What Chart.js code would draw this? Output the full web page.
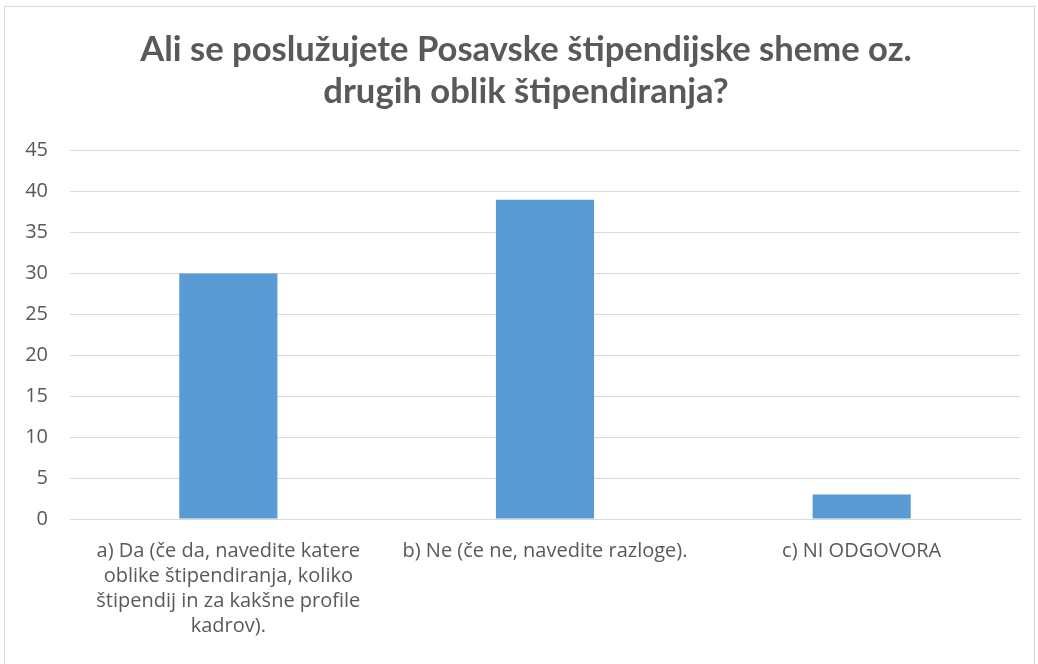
<!DOCTYPE html>
<html>
<head>
<meta charset="utf-8">
<script src="https://cdn.jsdelivr.net/npm/chart.js@4/dist/chart.umd.min.js"></script>
<style>
    html, body { margin: 0; padding: 0; background: #fff; }
    #wrap { position: relative; width: 1038px; height: 664px; overflow: hidden; }
    #frame { position: absolute; left: 4px; top: 6px; width: 1029px; height: 680px; border: 1px solid #d9d9d9; }
    canvas { position: absolute; left: 0; top: 0; }
</style>
</head>
<body>
<div id="wrap">
    <div id="frame"></div>
    <canvas id="chart" width="1038" height="664"></canvas>
</div>
<script>
// Chart data
const chartTitle = ['Ali se poslužujete Posavske štipendijske sheme oz.', 'drugih oblik štipendiranja?'];
const categories = [
    ['a) Da (če da, navedite katere', 'oblike štipendiranja, koliko', 'štipendij in za kakšne profile', 'kadrov).'],
    'b) Ne (če ne, navedite razloge).',
    'c) NI ODGOVORA'
];
const answers = [30, 39, 3];
const yTicks = { min: 0, max: 45, step: 5 };

const textColor = '#595959';
const gridColor = '#d9d9d9';
const titleFont = "Lato, 'Open Sans', sans-serif";
const tickFont = "'Open Sans', Lato, sans-serif";

// nudge the title a little to the right, the original is centred on the frame
const titleShift = {
    id: 'titleShift',
    afterLayout(chart) {
        const t = chart.titleBlock;
        if (t) {
            t.left += 6;
            t.right += 6;
        }
    }
};

const ctx = document.getElementById('chart').getContext('2d');

new Chart(ctx, {
    type: 'bar',
    data: {
        labels: categories,
        datasets: [{
            data: answers,
            backgroundColor: '#5b9bd5',
            borderWidth: 0,
            barPercentage: 0.31,
            categoryPercentage: 1
        }]
    },
    options: {
        responsive: false,
        animation: false,
        layout: {
            padding: { left: 20, right: 18, top: 0, bottom: 0 }
        },
        plugins: {
            legend: { display: false },
            tooltip: { enabled: false },
            title: {
                display: true,
                text: chartTitle,
                color: textColor,
                font: { family: titleFont, size: 34.6, weight: 'bold', lineHeight: 1.21 },
                padding: { top: 29, bottom: 38 }
            }
        },
        scales: {
            x: {
                grid: { display: false, drawTicks: false },
                border: { display: true, color: gridColor, width: 1 },
                ticks: {
                    color: textColor,
                    font: { family: tickFont, size: 20, lineHeight: 1.25 },
                    maxRotation: 0,
                    autoSkip: false,
                    padding: 20
                },
                afterFit: function (scale) {
                    scale.height = 145;
                }
            },
            y: {
                min: yTicks.min,
                max: yTicks.max,
                grid: { color: gridColor, drawTicks: false },
                border: { display: false },
                ticks: {
                    stepSize: yTicks.step,
                    color: textColor,
                    font: { family: tickFont, size: 20 },
                    padding: 22
                },
                afterFit: function (scale) {
                    scale.width = 50;
                }
            }
        }
    },
    plugins: [titleShift]
});
</script>
</body>
</html>
